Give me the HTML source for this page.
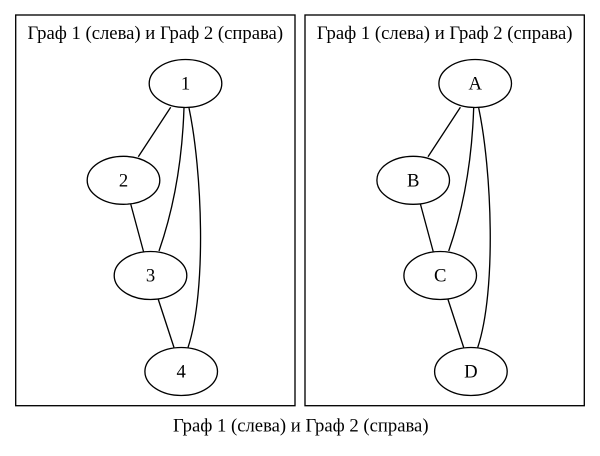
<!DOCTYPE html>
<html>
<head>
<meta charset="utf-8">
<style>
html,body{margin:0;padding:0;background:#fff;}
svg{display:block;}
text{font-family:"Liberation Serif","Times New Roman",serif;font-size:18.67px;fill:#000;}
</style>
</head>
<body>
<svg width="600" height="456" viewBox="0 0 600 456" xmlns="http://www.w3.org/2000/svg">
<rect x="0" y="0" width="600" height="456" fill="#fff"/>
<!-- clusters -->
<rect x="15.7" y="15" width="279.3" height="390.7" fill="none" stroke="#000" stroke-width="1.33"/>
<rect x="305" y="15" width="279.3" height="390.7" fill="none" stroke="#000" stroke-width="1.33"/>
<text x="155.3" y="39" text-anchor="middle">Граф 1 (слева) и Граф 2 (справа)</text>
<text x="444.7" y="39" text-anchor="middle">Граф 1 (слева) и Граф 2 (справа)</text>
<text x="300.8" y="431.7" text-anchor="middle">Граф 1 (слева) и Граф 2 (справа)</text>

<g id="g1" fill="none" stroke="#000" stroke-width="1.33">
  <path d="M170.7,107.3 L138.3,156.7"/>
  <path d="M184,107.5 C182.5,155 175,205 159,251"/>
  <path d="M189,108 C202,170 207,290 188,347.5"/>
  <path d="M130.7,204 L143.5,251.5"/>
  <path d="M158.3,299.5 L174,347.5"/>
  <ellipse cx="185.5" cy="83.5" rx="36.3" ry="24"/>
  <ellipse cx="123.5" cy="180.3" rx="36.3" ry="24"/>
  <ellipse cx="150.5" cy="275.5" rx="36.3" ry="24"/>
  <ellipse cx="181.2" cy="371.5" rx="36.3" ry="24"/>
</g>
<text x="185.5" y="89.5" text-anchor="middle">1</text>
<text x="123.5" y="186.3" text-anchor="middle">2</text>
<text x="150.5" y="281.5" text-anchor="middle">3</text>
<text x="181.2" y="377.5" text-anchor="middle">4</text>

<g transform="translate(289.7,0)">
<g fill="none" stroke="#000" stroke-width="1.33">
  <path d="M170.7,107.3 L138.3,156.7"/>
  <path d="M184,107.5 C182.5,155 175,205 159,251"/>
  <path d="M189,108 C202,170 207,290 188,347.5"/>
  <path d="M130.7,204 L143.5,251.5"/>
  <path d="M158.3,299.5 L174,347.5"/>
  <ellipse cx="185.5" cy="83.5" rx="36.3" ry="24"/>
  <ellipse cx="123.5" cy="180.3" rx="36.3" ry="24"/>
  <ellipse cx="150.5" cy="275.5" rx="36.3" ry="24"/>
  <ellipse cx="181.2" cy="371.5" rx="36.3" ry="24"/>
</g>
<text x="185.5" y="89.5" text-anchor="middle">A</text>
<text x="123.5" y="186.3" text-anchor="middle">B</text>
<text x="150.5" y="281.5" text-anchor="middle">C</text>
<text x="181.2" y="377.5" text-anchor="middle">D</text>
</g>
</svg>
</body>
</html>
